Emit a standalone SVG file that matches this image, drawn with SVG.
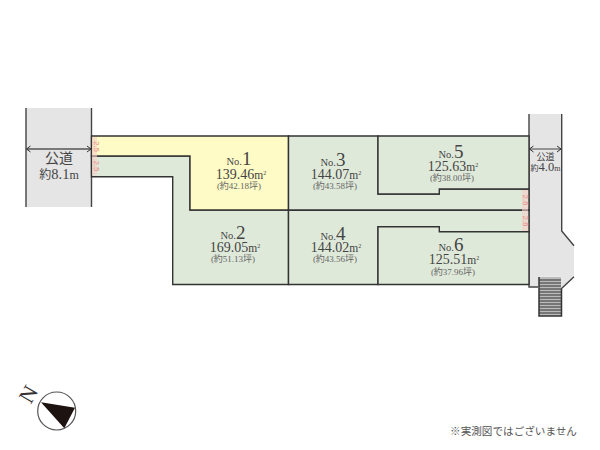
<svg xmlns="http://www.w3.org/2000/svg" width="600" height="450" viewBox="0 0 600 450">
<style>
text{font-family:"Liberation Serif","Noto Sans CJK JP",serif;fill:#444;text-anchor:middle}
.lot{stroke:#333;stroke-width:1.4;stroke-linejoin:miter}
.g{fill:#dfe9da}
.y{fill:#fefbc6}
.road{fill:#e5e5e5;stroke:none}
.edge{fill:none;stroke:#444;stroke-width:1.4}
.no{font-size:10.5px}
.big{font-size:19px}
.area{font-size:14px}
.unit{font-size:11.5px}
.sup{font-size:6px}
.tsubo{font-size:9px;fill:#666}
.dim{font-size:8px;fill:#e58f86;font-family:"Liberation Sans",sans-serif}
.tick{fill:#f6cfc8;opacity:.6}
</style>
<defs>
<marker id="a" markerWidth="7" markerHeight="8" refX="5.5" refY="4" orient="auto-start-reverse" markerUnits="userSpaceOnUse"><path d="M1.500 1L5.500 4L1.500 7" fill="none" stroke="#333" stroke-width="1"/></marker>
</defs>
<g id="road-west">
<rect class="road" x="26" y="108" width="65.500" height="99"/>
<path class="edge" d="M26 108V207M91.500 108V207"/>
<text x="59" y="163" font-size="14">公道</text>
<text x="59" y="179" font-size="14.500"><tspan font-size="12">約</tspan>8.1<tspan font-size="12">m</tspan></text>
</g>
<g id="road-east">
<path class="road" d="M529 114H561.700V231L574 245.700V276.700L561 289V276.700H539V287H529Z"/>
<path class="edge" d="M529 114V284.500V287H538M561.700 114V231L574 245.700M574 276.700L561 289"/>
<text x="545.500" y="160" font-size="9">公道</text>
<text x="545.500" y="171" font-size="12.500"><tspan font-size="8">約</tspan>4.0<tspan font-size="8">m</tspan></text>
</g>
<g id="lot-2">
<path class="lot g" d="M91.500 156H190V210H288.500V284.500H172.700V176.700H91.500Z"/>
<text x="233" y="239" class="no">No.<tspan class="big">2</tspan></text>
<text x="235" y="252" class="area">169.05<tspan class="unit">m</tspan><tspan class="sup" dy="-4">2</tspan></text>
<text x="233" y="262" class="tsubo">(約51.13坪)</text>
</g>
<g id="lot-1">
<path class="lot y" d="M91.500 136H288.500V210H190V156H91.500Z"/>
<text x="239" y="165" class="no">No.<tspan class="big">1</tspan></text>
<text x="241" y="179" class="area">139.46<tspan class="unit">m</tspan><tspan class="sup" dy="-4">2</tspan></text>
<text x="239" y="189" class="tsubo">(約42.18坪)</text>
</g>
<g id="lot-3">
<path class="lot g" d="M288.500 136H378V194H439.300V189H529V210.200H288.500Z"/>
<text x="333" y="166" class="no">No.<tspan class="big">3</tspan></text>
<text x="336" y="179" class="area">144.07<tspan class="unit">m</tspan><tspan class="sup" dy="-4">2</tspan></text>
<text x="335" y="189" class="tsubo">(約43.58坪)</text>
</g>
<g id="lot-4">
<path class="lot g" d="M288.500 210.200H529V231.700H439.300V226.700H378V284.500H288.500Z"/>
<text x="333" y="240" class="no">No.<tspan class="big">4</tspan></text>
<text x="336" y="252" class="area">144.02<tspan class="unit">m</tspan><tspan class="sup" dy="-4">2</tspan></text>
<text x="335" y="262" class="tsubo">(約43.56坪)</text>
</g>
<g id="lot-5">
<path class="lot g" d="M378 136H529V189H439.300V194H378Z"/>
<text x="451" y="158" class="no">No.<tspan class="big">5</tspan></text>
<text x="453" y="171" class="area">125.63<tspan class="unit">m</tspan><tspan class="sup" dy="-4">2</tspan></text>
<text x="452" y="181" class="tsubo">(約38.00坪)</text>
</g>
<g id="lot-6">
<path class="lot g" d="M378 226.700H439.300V231.700H529V284.500H378Z"/>
<text x="451" y="251" class="no">No.<tspan class="big">6</tspan></text>
<text x="454" y="264" class="area">125.51<tspan class="unit">m</tspan><tspan class="sup" dy="-4">2</tspan></text>
<text x="453" y="275" class="tsubo">(約37.96坪)</text>
</g>
<g id="connectors">
<path d="M26.500 149H91" fill="none" stroke="#555" stroke-width="1.300" marker-start="url(#a)" marker-end="url(#a)"/>
<path d="M529.500 149H561" fill="none" stroke="#444" stroke-width="1" marker-start="url(#a)" marker-end="url(#a)"/>
</g>
<g id="dimensions">
<rect class="tick" x="92" y="137" width="5" height="38"/>
<rect class="tick" x="522" y="190" width="6" height="41"/>
<text class="dim" transform="translate(94 146.500) rotate(90)">2.5</text>
<text class="dim" transform="translate(94 166) rotate(90)">2.5</text>
<text class="dim" transform="translate(522.500 200) rotate(90)">2.6</text>
<text class="dim" transform="translate(522.500 221) rotate(90)">2.6</text>
</g>
<g id="stairs">
<rect x="539" y="277" width="22" height="39" fill="#bbb"/>
<path d="M539 277V316H561.500V289" fill="none" stroke="#333" stroke-width="1.500"/>
<path d="M539 280H561M539 283H561M539 286H561M539 289H561M539 292H561M539 295H561M539 298H561M539 301H561M539 304H561M539 307H561M539 310H561M539 313H561" stroke="#333" stroke-width="1.100"/>
</g>
<g id="compass">
<circle cx="56.700" cy="411" r="19" fill="#fff" stroke="#555" stroke-width="1.200"/>
<path d="M41 402.300L75 407.700L64.300 428.300Z" fill="#1d1311"/>
<text transform="translate(28.300 394.300) rotate(-60)" y="7.300" font-size="22" style="fill:#333">N</text>
</g>
<text x="513.500" y="435" font-size="10.600" style="font-family:'Noto Sans CJK JP',sans-serif;fill:#555">※実測図ではございません</text>
</svg>
